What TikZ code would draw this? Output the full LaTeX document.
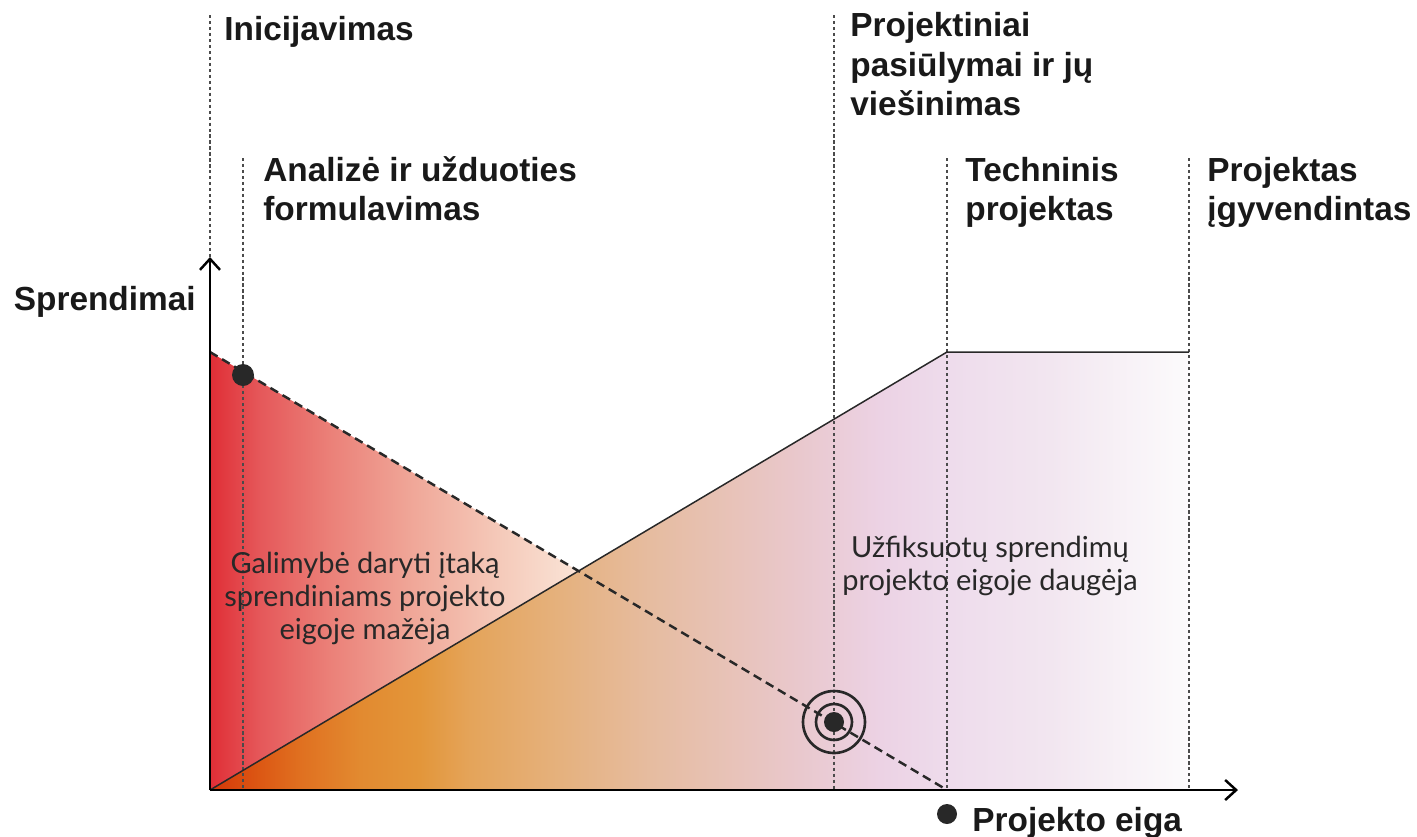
\documentclass[tikz,border=0pt]{standalone}
\usepackage{fontspec}
\setmainfont{Lato}
\newfontfamily\headfont{Liberation Sans}
\usetikzlibrary{arrows.meta,positioning,calc}
\definecolor{inkgray}{RGB}{40,40,40}
\definecolor{guidegray}{RGB}{75,75,75}
\definecolor{rfA}{RGB}{224,46,54}
\definecolor{rfB}{RGB}{229,88,90}
\definecolor{rfC}{RGB}{235,128,120}
\definecolor{rfD}{RGB}{240,170,155}
\definecolor{rfE}{RGB}{245,202,186}
\definecolor{rfF}{RGB}{250,228,215}
\definecolor{ofA}{RGB}{213,55,8}
\definecolor{ofB}{RGB}{220,88,20}
\definecolor{ofC}{RGB}{224,112,32}
\definecolor{ofD}{RGB}{226,138,48}
\definecolor{ofE}{RGB}{227,150,58}
\definecolor{ofF}{RGB}{228,164,90}
\definecolor{ofG}{RGB}{229,176,122}
\definecolor{ofH}{RGB}{230,188,160}
\definecolor{ofI}{RGB}{233,200,205}
\definecolor{ofJ}{RGB}{236,210,228}
\definecolor{ofK}{RGB}{238,220,236}
\definecolor{ofL}{RGB}{242,230,240}
\definecolor{ofM}{RGB}{252,251,252}
\pgfdeclarehorizontalshading{redfade}{100bp}{color(0bp)=(rfA); color(25bp)=(rfA); color(28.4bp)=(rfB); color(33.1bp)=(rfC); color(39.2bp)=(rfD); color(44.7bp)=(rfE); color(50bp)=(rfF); color(100bp)=(rfF)}
\pgfdeclarehorizontalshading{orangefade}{100bp}{color(0bp)=(ofA); color(25bp)=(ofA); color(27.55bp)=(ofB); color(29.6bp)=(ofC); color(32.66bp)=(ofD); color(35.7bp)=(ofE); color(38.3bp)=(ofF); color(42.4bp)=(ofG); color(47.5bp)=(ofH); color(55.1bp)=(ofI); color(59.2bp)=(ofJ); color(62.8bp)=(ofK); color(67.9bp)=(ofL); color(75bp)=(ofM); color(100bp)=(ofM)}
\tikzset{
    axis/.style={-{Straight Barb[length=2.2mm, width=4mm]}, line width=1.4pt, black},
    guide/.style={guidegray, line width=0.6pt, dash pattern=on 1.8pt off 1.6pt},
    decline/.style={inkgray, line width=1.4pt, dash pattern=on 5pt off 3pt},
    slope/.style={inkgray, line width=0.85pt},
    phase/.style={anchor=base west, align=left, inner sep=0pt, text=black!90, font=\headfont\bfseries\fontsize{19}{22.2}\selectfont},
    note/.style={align=center, inner sep=0pt, text=inkgray, font=\fontsize{16.5}{18.8}\selectfont},
    bullet/.style={circle, fill=inkgray, inner sep=0pt, minimum size=0.44cm},
    ring/.style={circle, draw=inkgray, line width=1.5pt, inner sep=0pt}
}
\begin{document}
\begin{tikzpicture}[x=0.02cm, y=-0.02cm]
\useasboundingbox (0,0) rectangle (1417,836);
\coordinate (origin) at (210,790);
\coordinate (ytip) at (210,257);
\coordinate (xtip) at (1238,790);
\coordinate (high) at (210,352);
\coordinate (low) at (947,790);
\coordinate (peak) at (947,352);
\coordinate (plateau) at (1189,352);
\coordinate (floor) at (1189,790);
\coordinate (guidetop) at (210,15);

\shade[shading=redfade] (high) -- (low) -- (origin) -- cycle;
\shade[shading=orangefade] (origin) -- (peak) -- (plateau) -- (floor) -- cycle;

\draw[guide] (guidetop) -- (ytip);
\foreach \x/\top in {243/158, 834/15, 947/158, 1189/158}
    \draw[guide] (\x,\top) -- (\x,790);

\draw[slope] (origin) -- (peak) -- (plateau);
\draw[decline] (high) -- (low);
\draw[axis] (origin) -- (ytip);
\draw[axis] (origin) -- (xtip);

\node[bullet] (start) at (243,375) {};
\node[ring, minimum size=1.24cm] (target) at (834,722) {};
\node[ring, minimum size=0.72cm] (targetmid) at (target) {};
\node[bullet, minimum size=0.4cm] (targetdot) at (target) {};
\node[bullet, minimum size=0.4cm] (endmark) at (947,814) {};

\node[phase] (inic) at (224,40) {Inicijavimas};
\node[phase] (analize) at (263,220) {Analizė ir užduoties\\formulavimas};
\node[phase] (pasiul) at (850,115) {Projektiniai\\pasiūlymai ir jų\\viešinimas};
\node[phase] (techn) at (965,220) {Techninis\\projektas};
\node[phase] (igyv) at (1207,220) {Projektas\\įgyvendintas};
\node[phase, anchor=base east] (sprend) at (196,310) {Sprendimai};
\node[phase] (eiga) at (972,831) {Projekto eiga};

\node[note] (mazeja) at (365,598) {Galimybė daryti įtaką\\sprendiniams projekto\\eigoje mažėja};
\node[note] (daugeja) at (990,566) {Užfiksuotų sprendimų\\projekto eigoje daugėja};
\end{tikzpicture}
\end{document}
